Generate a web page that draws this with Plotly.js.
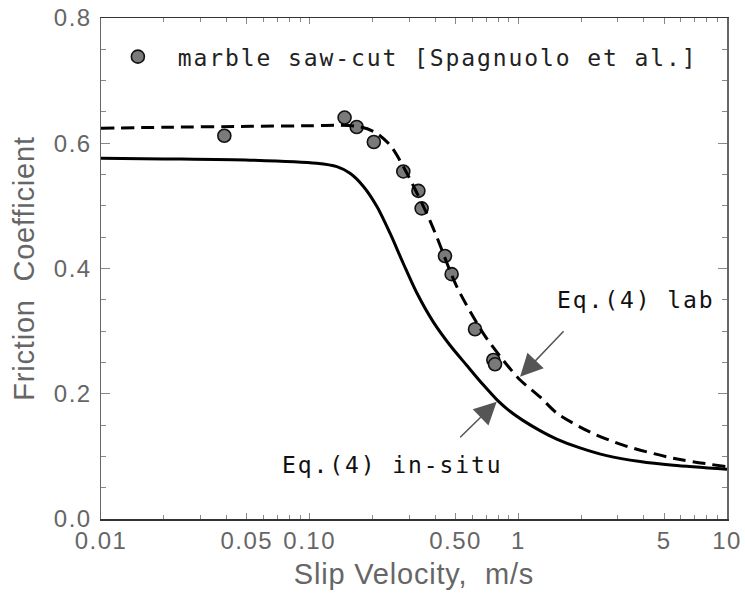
<!DOCTYPE html>
<html>
<head>
<meta charset="utf-8">
<script src="https://cdn.plot.ly/plotly-3.0.1.min.js"></script>
<style>
  body { margin: 0; padding: 0; background: #fff; }
  #chart { width: 745px; height: 605px; }
  .legendtext, .annotation-text { letter-spacing: 1.9px; }
  .xtick text, .ytick text { letter-spacing: 1.5px; }
  text.xtitle, text.ytitle { letter-spacing: 0.8px; }
</style>
</head>
<body>
<div id="chart"></div>
<script>
// Measured data: marble saw-cut [Spagnuolo et al.]
const velData = [0.039, 0.147, 0.168, 0.203, 0.281, 0.332, 0.344, 0.445, 0.479, 0.620, 0.759, 0.773];
const muData  = [0.612, 0.641, 0.626, 0.602, 0.555, 0.524, 0.496, 0.420, 0.391, 0.303, 0.254, 0.247];

// Eq.(4) lab (dashed)
const velLab = [0.01, 0.02, 0.052, 0.10, 0.14, 0.175, 0.206, 0.243, 0.281, 0.364, 0.406, 0.507, 0.679, 0.844, 1.02, 1.27, 1.53, 2.2, 3.18, 5.53, 10];
const muLab  = [0.624, 0.6255, 0.627, 0.628, 0.6286, 0.626, 0.6175, 0.597, 0.563, 0.488, 0.451, 0.371, 0.2965, 0.254, 0.222, 0.195, 0.169, 0.139, 0.118, 0.097, 0.0835];

// Eq.(4) in-situ (solid)
const velInSitu = [0.01, 0.02, 0.052, 0.108, 0.135, 0.156, 0.181, 0.210, 0.243, 0.281, 0.326, 0.391, 0.4705, 0.5655, 0.679, 0.788, 0.912, 1.056, 1.27, 1.527, 1.975, 2.65, 3.83, 5.53, 10];
const muInSitu  = [0.576, 0.575, 0.573, 0.568, 0.5626, 0.552, 0.531, 0.499, 0.456, 0.408, 0.3612, 0.3147, 0.2774, 0.2455, 0.2142, 0.1907, 0.1720, 0.1571, 0.1412, 0.1277, 0.1135, 0.1012, 0.0917, 0.0858, 0.0794];

// Axis ticks
const xTickVals = [0.01, 0.05, 0.1, 0.5, 1, 5, 10];
const xTickText = ['0.01', '0.05', '0.10', '0.50', '1', '5', '10'];
const xMinorVals = [0.02, 0.03, 0.04, 0.06, 0.07, 0.08, 0.09, 0.2, 0.3, 0.4, 0.6, 0.7, 0.8, 0.9, 2, 3, 4, 6, 7, 8, 9];

const legendName = 'marble saw-cut [Spagnuolo et al.]';
const labLabel = 'Eq.(4) lab';
const situLabel = 'Eq.(4) in-situ';

const sansFont = 'Liberation Sans, Arial, sans-serif';
const monoFont = 'DejaVu Sans Mono, Liberation Mono, monospace';

const traces = [
  {
    x: velData, y: muData, type: 'scatter', mode: 'markers', name: legendName,
    marker: { size: 13, color: '#7a7a7a', line: { color: '#111', width: 1.6 } },
    showlegend: true
  },
  {
    x: velInSitu, y: muInSitu, type: 'scatter', mode: 'lines', name: situLabel,
    line: { color: '#000', width: 3, shape: 'spline', smoothing: 0.8 },
    showlegend: false
  },
  {
    x: velLab, y: muLab, type: 'scatter', mode: 'lines', name: labLabel,
    line: { color: '#000', width: 3, dash: '13px,7px', shape: 'spline', smoothing: 0.8 },
    showlegend: false
  }
];

const layout = {
  width: 745, height: 605,
  margin: { l: 101, r: 18, t: 18, b: 86 },
  paper_bgcolor: '#fff', plot_bgcolor: '#fff',
  showlegend: true,
  legend: {
    x: -0.005, xanchor: 'left', y: 0.9228, yanchor: 'middle',
    bgcolor: 'rgba(0,0,0,0)', itemwidth: 70,
    font: { family: monoFont, size: 23, color: '#222' }
  },
  xaxis: {
    type: 'log', range: [-2, 1],
    tickmode: 'array', tickvals: xTickVals, ticktext: xTickText,
    ticks: 'inside', ticklen: 6, tickwidth: 1, tickcolor: '#888',
    minor: { tickmode: 'array', tickvals: xMinorVals, ticks: 'inside', ticklen: 4, tickwidth: 1, tickcolor: '#888' },
    showline: true, linecolor: '#333', linewidth: 1.5, mirror: 'allticks',
    showgrid: false, zeroline: false,
    tickfont: { family: sansFont, size: 24, color: '#666' },
    title: { text: 'Slip Velocity,\u00a0 m/s', font: { family: sansFont, size: 29, color: '#666' }, standoff: 10 }
  },
  yaxis: {
    range: [0, 0.8], tick0: 0, dtick: 0.2, tickformat: '.1f',
    ticks: 'inside', ticklen: 9, tickwidth: 1, tickcolor: '#888',
    minor: { dtick: 0.05, ticks: 'inside', ticklen: 5, tickwidth: 1, tickcolor: '#888' },
    showline: true, linecolor: '#666', linewidth: 1.5, mirror: 'allticks',
    showgrid: false, zeroline: false,
    tickfont: { family: sansFont, size: 24, color: '#666' },
    ticklabelstandoff: 3,
    title: { text: 'Friction\u00a0 Coefficient', font: { family: sansFont, size: 29, color: '#666' }, standoff: 10 }
  },
  annotations: [
    { x: Math.log10(1.499), y: 0.35, xref: 'x', yref: 'y', text: labLabel, showarrow: false,
      xanchor: 'left', yanchor: 'middle', font: { family: monoFont, size: 23, color: '#111' } },
    { x: Math.log10(0.0721), y: 0.087, xref: 'x', yref: 'y', text: situLabel, showarrow: false,
      xanchor: 'left', yanchor: 'middle', font: { family: monoFont, size: 23, color: '#111' } },
    { x: Math.log10(1.019), y: 0.227, xref: 'x', yref: 'y', text: '', showarrow: true,
      ax: 45, ay: -47, arrowhead: 2, arrowsize: 3, arrowwidth: 1.5, arrowcolor: '#555' },
    { x: Math.log10(0.7876), y: 0.1873, xref: 'x', yref: 'y', text: '', showarrow: true,
      ax: -38, ay: 37, arrowhead: 2, arrowsize: 3, arrowwidth: 1.5, arrowcolor: '#555' }
  ]
};

Plotly.newPlot('chart', traces, layout, { displayModeBar: false, staticPlot: true });
</script>
</body>
</html>
